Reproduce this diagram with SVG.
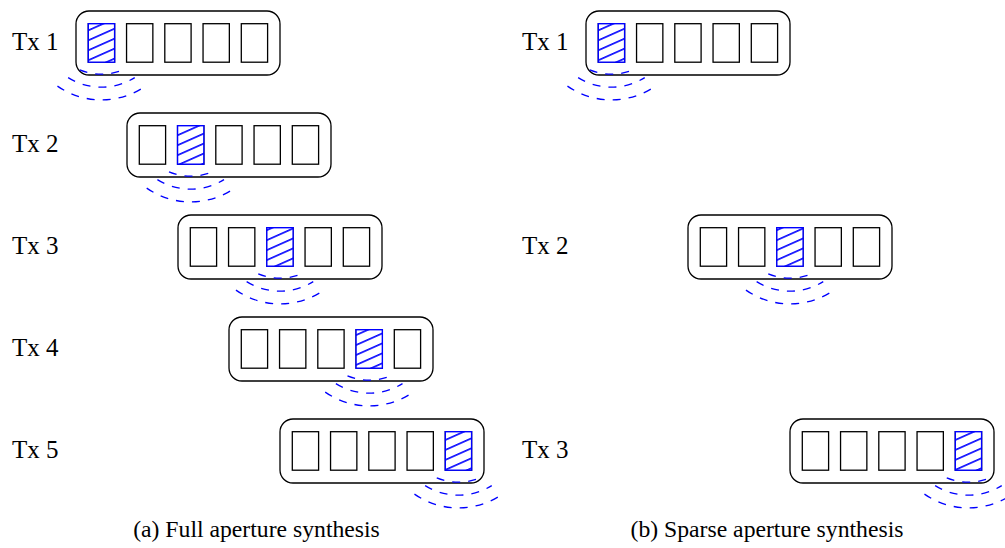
<svg xmlns="http://www.w3.org/2000/svg" xmlns:xlink="http://www.w3.org/1999/xlink" width="1005" height="548" viewBox="0 0 1005 548">
  <style>
    .frame { fill: none; stroke: #000; stroke-width: 1.3; }
    .cell { fill: #fff; stroke: #000; stroke-width: 1.3; }
    .hot { fill: url(#hatch); stroke: #0000ff; stroke-width: 1.4; }
    .wave { fill: none; stroke: #0000ff; stroke-width: 1.3; stroke-dasharray: 8 8; }
    .label { font-family: "Liberation Serif", "Times New Roman", serif; font-size: 25px; fill: #000; }
    .caption { font-family: "Liberation Serif", "Times New Roman", serif; font-size: 23.7px; fill: #000; text-anchor: middle; }
  </style>
  <defs>
    <!-- diagonal hatching for the active transmit element -->
    <pattern id="hatch" patternUnits="userSpaceOnUse" width="20" height="9.1" patternTransform="rotate(-24)">
      <rect width="20" height="9.1" fill="#fff"/>
      <line x1="0" y1="4.5" x2="20" y2="4.5" stroke="#0000ff" stroke-width="1.6"/>
    </pattern>
    <!-- five-element linear array in a rounded housing -->
    <g id="array">
      <rect class="frame" x="0" y="0" width="204" height="64" rx="13" ry="13"/>
      <rect class="cell" x="12.3" y="12.7" width="26.3" height="38.5"/>
      <rect class="cell" x="50.55" y="12.7" width="26.3" height="38.5"/>
      <rect class="cell" x="88.8" y="12.7" width="26.3" height="38.5"/>
      <rect class="cell" x="127.05" y="12.7" width="26.3" height="38.5"/>
      <rect class="cell" x="165.3" y="12.7" width="26.3" height="38.5"/>
    </g>
    <!-- emitted wavefronts, origin at the bottom centre of the firing element -->
    <g id="waves">
      <path class="wave" d="M -21.7 7.7 A 57 57 0 0 0 21.7 7.7"/>
      <path class="wave" d="M -33.3 15.4 A 62.6 62.6 0 0 0 33.3 15.4"/>
      <path class="wave" d="M -44 23.9 A 77 77 0 0 0 44 23.9"/>
    </g>
  </defs>

  <!-- (a) full aperture: every element fires in turn -->
  <g id="full-tx1">
    <text class="label" x="12" y="49.5">Tx 1</text>
    <g transform="translate(76,11)">
      <use xlink:href="#array"/>
      <rect class="hot" x="12.3" y="12.7" width="26.3" height="38.5"/>
      <use xlink:href="#waves" x="25.45" y="51.2"/>
    </g>
  </g>
  <g id="full-tx2">
    <text class="label" x="12" y="151.5">Tx 2</text>
    <g transform="translate(127,113)">
      <use xlink:href="#array"/>
      <rect class="hot" x="50.55" y="12.7" width="26.3" height="38.5"/>
      <use xlink:href="#waves" x="63.7" y="51.2"/>
    </g>
  </g>
  <g id="full-tx3">
    <text class="label" x="12" y="253.5">Tx 3</text>
    <g transform="translate(178,215)">
      <use xlink:href="#array"/>
      <rect class="hot" x="88.8" y="12.7" width="26.3" height="38.5"/>
      <use xlink:href="#waves" x="101.95" y="51.2"/>
    </g>
  </g>
  <g id="full-tx4">
    <text class="label" x="12" y="355.5">Tx 4</text>
    <g transform="translate(229,317)">
      <use xlink:href="#array"/>
      <rect class="hot" x="127.05" y="12.7" width="26.3" height="38.5"/>
      <use xlink:href="#waves" x="140.2" y="51.2"/>
    </g>
  </g>
  <g id="full-tx5">
    <text class="label" x="12" y="457.5">Tx 5</text>
    <g transform="translate(280,419)">
      <use xlink:href="#array"/>
      <rect class="hot" x="165.3" y="12.7" width="26.3" height="38.5"/>
      <use xlink:href="#waves" x="178.45" y="51.2"/>
    </g>
  </g>

  <!-- (b) sparse aperture: only elements 1, 3 and 5 fire -->
  <g id="sparse-tx1">
    <text class="label" x="522" y="49.5">Tx 1</text>
    <g transform="translate(586,11)">
      <use xlink:href="#array"/>
      <rect class="hot" x="12.3" y="12.7" width="26.3" height="38.5"/>
      <use xlink:href="#waves" x="25.45" y="51.2"/>
    </g>
  </g>
  <g id="sparse-tx2">
    <text class="label" x="522" y="253.5">Tx 2</text>
    <g transform="translate(688,215)">
      <use xlink:href="#array"/>
      <rect class="hot" x="88.8" y="12.7" width="26.3" height="38.5"/>
      <use xlink:href="#waves" x="101.95" y="51.2"/>
    </g>
  </g>
  <g id="sparse-tx3">
    <text class="label" x="522" y="457.5">Tx 3</text>
    <g transform="translate(790,419)">
      <use xlink:href="#array"/>
      <rect class="hot" x="165.3" y="12.7" width="26.3" height="38.5"/>
      <use xlink:href="#waves" x="178.45" y="51.2"/>
    </g>
  </g>

  <!-- no connectors between the arrays -->
  <g id="connectors"/>

  <text class="caption" x="256.5" y="537">(a) Full aperture synthesis</text>
  <text class="caption" x="767" y="537">(b) Sparse aperture synthesis</text>
</svg>
